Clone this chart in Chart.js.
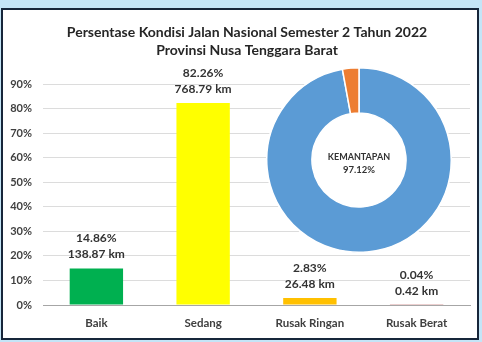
<!DOCTYPE html>
<html>
<head>
<meta charset="utf-8">
<script src="https://cdn.jsdelivr.net/npm/chart.js@4.4.1/dist/chart.umd.min.js"></script>
<style>
  html, body { margin: 0; padding: 0; }
  body { width: 482px; height: 342px; background: #c4e5f7; position: relative; overflow: hidden; }
  #panel {
    position: absolute; left: 1px; top: 8px; width: 474px; height: 328px;
    background: #fff; border: 2px solid #17263a;
  }
  #barChart { position: absolute; left: 0; top: 0; }
  #donutChart { position: absolute; left: 266px; top: 67px; }
</style>
</head>
<body>
<div id="panel"></div>
<canvas id="barChart" width="482" height="342"></canvas>
<canvas id="donutChart" width="186" height="186"></canvas>
<script>
// Kondisi jalan nasional NTB, semester 2 2022
const kategori = ['Baik', 'Sedang', 'Rusak Ringan', 'Rusak Berat'];
const persen = [14.86, 82.26, 2.83, 0.04];
const panjangKm = [138.87, 768.79, 26.48, 0.42];
const warnaBar = ['#00b050', '#ffff00', '#ffc000', '#d9a0a0'];

const judul = ['Persentase Kondisi Jalan Nasional Semester 2 Tahun 2022', 'Provinsi Nusa Tenggara Barat'];

// Kemantapan (baik + sedang)
const kemantapanLabel = ['Mantap', 'Tidak Mantap'];
const kemantapanNilai = [97.12, 2.88];
const kemantapanWarna = ['#5b9bd5', '#ed7d31'];

const FONT = 'Lato, "Open Sans", sans-serif';

// judul di atas grafik
const judulPlugin = {
    id: 'judul',
    afterDraw(chart) {
        const ctx = chart.ctx;
        ctx.save();
        ctx.fillStyle = '#262626';
        ctx.font = 'bold 14px ' + FONT;
        ctx.textAlign = 'center';
        ctx.textBaseline = 'middle';
        ctx.fillText(judul[0], 247, 32);
        ctx.fillText(judul[1], 247, 50);
        ctx.restore();
    }
};

// label persen + km di atas tiap batang
const labelBatang = {
    id: 'labelBatang',
    afterDatasetsDraw(chart) {
        const ctx = chart.ctx;
        const meta = chart.getDatasetMeta(0);
        ctx.save();
        ctx.fillStyle = '#333';
        ctx.font = 'bold 12px ' + FONT;
        ctx.textAlign = 'center';
        ctx.textBaseline = 'middle';
        meta.data.forEach((bar, i) => {
            ctx.fillText(persen[i].toFixed(2) + '%', bar.x, bar.y - 30);
            ctx.fillText(panjangKm[i].toFixed(2) + ' km', bar.x, bar.y - 14);
        });
        ctx.restore();
    }
};

new Chart(document.getElementById('barChart'), {
    type: 'bar',
    data: {
        labels: kategori,
        datasets: [{
            data: persen,
            backgroundColor: warnaBar,
            categoryPercentage: 1,
            barPercentage: 0.5
        }]
    },
    options: {
        responsive: false,
        animation: false,
        layout: { padding: { left: 6, right: 12, top: 84, bottom: 7 } },
        scales: {
            x: {
                afterFit(scale) { scale.height = 30; },
                grid: { display: false },
                border: { color: '#a6a6a6' },
                ticks: { color: '#404040', padding: 3, font: { family: FONT, size: 11.5, weight: 'bold' } }
            },
            y: {
                min: 0,
                max: 90,
                afterFit(scale) { scale.width = 37; },
                border: { display: false },
                grid: {
                    drawTicks: false,
                    color: c => c.tick.value === 0 ? '#a6a6a6' : '#dcdcdc'
                },
                ticks: {
                    stepSize: 10,
                    padding: 11,
                    color: '#404040',
                    font: { family: FONT, size: 11, weight: 'bold' },
                    callback: v => v + '%'
                }
            }
        },
        plugins: {
            legend: { display: false },
            tooltip: { enabled: false }
        }
    },
    plugins: [judulPlugin, labelBatang]
});

// lingkaran putih di belakang donat + teks tengah
const donatPlugin = {
    id: 'donatTengah',
    beforeDatasetsDraw(chart) {
        const arc = chart.getDatasetMeta(0).data[0];
        const ctx = chart.ctx;
        ctx.save();
        ctx.fillStyle = '#fff';
        ctx.beginPath();
        ctx.arc(arc.x, arc.y, arc.outerRadius + 1, 0, Math.PI * 2);
        ctx.fill();
        ctx.restore();
    },
    afterDraw(chart) {
        const arc = chart.getDatasetMeta(0).data[0];
        const ctx = chart.ctx;
        ctx.save();
        ctx.fillStyle = '#333';
        ctx.textAlign = 'center';
        ctx.textBaseline = 'middle';
        ctx.font = 'bold 9px ' + FONT;
        ctx.fillText('KEMANTAPAN', arc.x, arc.y - 3);
        ctx.font = 'bold 9.5px ' + FONT;
        ctx.fillText(kemantapanNilai[0].toFixed(2) + '%', arc.x, arc.y + 10);
        ctx.restore();
    }
};

new Chart(document.getElementById('donutChart'), {
    type: 'doughnut',
    data: {
        labels: kemantapanLabel,
        datasets: [{
            data: kemantapanNilai,
            backgroundColor: kemantapanWarna,
            borderColor: '#fff',
            borderWidth: 1.5,
            hoverOffset: 0
        }]
    },
    options: {
        responsive: false,
        animation: false,
        cutout: '51%',
        plugins: {
            legend: { display: false },
            tooltip: { enabled: false }
        }
    },
    plugins: [donatPlugin]
});
</script>
</body>
</html>
